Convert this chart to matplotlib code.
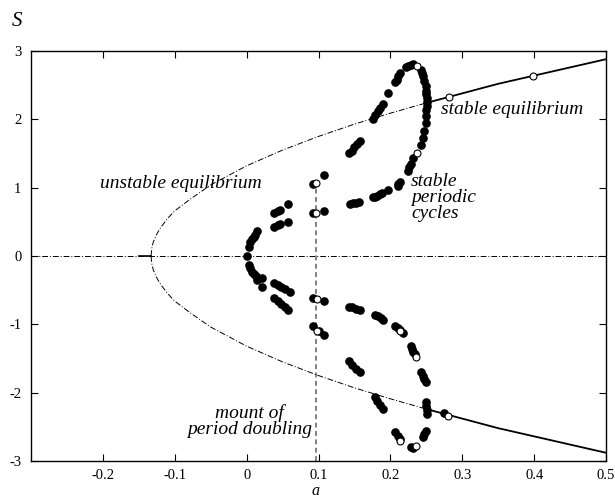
import numpy as np
from matplotlib import pyplot as plt

plt.rcParams['font.family'] = ['Liberation Serif', 'DejaVu Serif']

# equilibrium branch (upper half, lower half is mirrored)
a_eq_unst = [-0.133, -0.132, -0.13, -0.125, -0.12, -0.115, -0.11, -0.1, -0.08, -0.05, 0.0, 0.05, 0.1, 0.15, 0.2, 0.25]
S_eq_unst = [0.0, 0.11, 0.2, 0.32, 0.41, 0.48, 0.55, 0.66, 0.82, 1.04, 1.32, 1.55, 1.75, 1.93, 2.09, 2.24]
a_eq_st = [0.25, 0.3, 0.35, 0.4, 0.45, 0.5]
S_eq_st = [2.24, 2.38, 2.52, 2.64, 2.76, 2.88]

# periodic cycles, filled points
a_up = [0.0, 0.003, 0.005, 0.008, 0.01, 0.012, 0.015,
        0.038, 0.043, 0.047, 0.058, 0.038, 0.043, 0.047, 0.058,
        0.093, 0.107, 0.144, 0.148, 0.152, 0.156,
        0.176, 0.179, 0.182, 0.186, 0.189, 0.197, 0.21, 0.211, 0.213,
        0.224, 0.226, 0.228, 0.232, 0.243, 0.246, 0.247,
        0.249, 0.25, 0.25, 0.251, 0.251, 0.251, 0.25, 0.25, 0.249, 0.247, 0.246, 0.244, 0.242,
        0.232, 0.228, 0.224, 0.222, 0.214, 0.211, 0.209, 0.207, 0.197,
        0.19, 0.186, 0.183, 0.179, 0.176, 0.158, 0.154, 0.15, 0.146, 0.143,
        0.107, 0.093]
S_up = [0.0, 0.13, 0.2, 0.25, 0.28, 0.31, 0.37,
        0.43, 0.45, 0.47, 0.5, 0.63, 0.66, 0.68, 0.76,
        0.63, 0.66, 0.76, 0.77, 0.78, 0.79,
        0.86, 0.87, 0.88, 0.90, 0.92, 0.96, 1.03, 1.06, 1.08,
        1.24, 1.30, 1.35, 1.44, 1.62, 1.73, 1.83,
        1.95, 2.05, 2.13, 2.2, 2.25, 2.31, 2.37, 2.42, 2.49, 2.56, 2.63, 2.68, 2.72,
        2.81, 2.80, 2.78, 2.77, 2.68, 2.63, 2.58, 2.55, 2.39,
        2.23, 2.17, 2.12, 2.06, 2.01, 1.69, 1.64, 1.59, 1.54, 1.51,
        1.18, 1.06]
a_lo = [0.003, 0.005, 0.008, 0.01, 0.013, 0.015, 0.022, 0.022,
        0.038, 0.043, 0.048, 0.053, 0.061, 0.038, 0.043, 0.048, 0.053, 0.058,
        0.093, 0.107, 0.142, 0.147, 0.152, 0.158,
        0.179, 0.183, 0.187, 0.19, 0.207, 0.21, 0.213, 0.217,
        0.228, 0.23, 0.232, 0.234, 0.243, 0.245, 0.247, 0.249,
        0.249, 0.25, 0.251, 0.251, 0.274,
        0.249, 0.247, 0.245, 0.228, 0.232,
        0.207, 0.21, 0.213, 0.179, 0.182, 0.185, 0.19,
        0.142, 0.147, 0.152, 0.158, 0.093, 0.1, 0.107]
S_lo = [-0.13, -0.18, -0.24, -0.27, -0.3, -0.35, -0.32, -0.45,
        -0.40, -0.43, -0.46, -0.48, -0.52, -0.61, -0.66, -0.70, -0.74, -0.79,
        -0.62, -0.66, -0.74, -0.75, -0.77, -0.79,
        -0.86, -0.88, -0.91, -0.93, -1.03, -1.06, -1.09, -1.12,
        -1.32, -1.36, -1.40, -1.44, -1.70, -1.75, -1.80, -1.85,
        -2.14, -2.19, -2.25, -2.31, -2.30,
        -2.56, -2.60, -2.65, -2.80, -2.81,
        -2.58, -2.63, -2.68, -2.07, -2.12, -2.18, -2.24,
        -1.54, -1.60, -1.65, -1.70, -1.03, -1.1, -1.16]

# open circles
a_open = [0.096, 0.096, 0.237, 0.237, 0.282, 0.399, 0.098, 0.098, 0.214, 0.236, 0.214, 0.236, 0.28]
S_open = [1.07, 0.63, 1.51, 2.78, 2.33, 2.64, -0.63, -1.1, -1.1, -1.48, -2.71, -2.78, -2.34]

a_pd = 0.096
S_pd_top = 1.06

fig = plt.figure(figsize=(6.15, 4.99), dpi=100)
ax = fig.add_axes([0.0504, 0.0762, 0.935, 0.8216])

dashdot = (0, (6, 2, 1, 2))
ax.axhline(0, color='k', lw=0.7, ls=dashdot)
ax.plot([-0.15, -0.133], [0, 0], color='k', lw=1.2)
ax.plot([a_pd, a_pd], [-3, S_pd_top], color='#808080', lw=1.4, ls=(0, (2.5, 1.8)))

ax.plot(a_eq_unst, S_eq_unst, color='k', lw=0.7, ls=dashdot)
ax.plot(a_eq_unst, -np.array(S_eq_unst), color='k', lw=0.7, ls=dashdot)
ax.plot(a_eq_st, S_eq_st, color='k', lw=1.3)
ax.plot(a_eq_st, -np.array(S_eq_st), color='k', lw=1.3)

ax.plot(a_up, S_up, 'o', color='k', ms=5.2, mec='k', zorder=3)
ax.plot(a_lo, S_lo, 'o', color='k', ms=5.2, mec='k', zorder=3)
ax.plot(a_open, S_open, 'o', mfc='white', mec='k', ms=5, mew=0.8, zorder=4)

ax.text(-0.204, 1.06, 'unstable equilibrium', style='italic', fontsize=14, va='center')
ax.text(0.271, 2.15, 'stable equilibrium', style='italic', fontsize=14, va='center')
ax.text(0.229, 0.86, 'stable\nperiodic\ncycles', style='italic', fontsize=14,
        va='center', linespacing=0.92)
ax.text(0.004, -2.41, 'mount of\nperiod doubling', style='italic', fontsize=14,
        ha='center', va='center', linespacing=0.92)

ax.set_xlim(-0.3, 0.5)
ax.set_ylim(-3, 3)
ax.set_xticks([-0.2, -0.1, 0, 0.1, 0.2, 0.3, 0.4, 0.5])
ax.set_xticklabels(['-0.2', '-0.1', '0', '0.1', '0.2', '0.3', '0.4', '0.5'])
ax.set_yticks([-3, -2, -1, 0, 1, 2, 3])
ax.set_yticklabels(['-3', '-2', '-1', '0', '1', '2', '3'])
ax.tick_params(direction='in', top=True, right=True, length=5, labelsize=10.5, pad=7)
ax.tick_params(axis='x', pad=5.5)
for s in ax.spines.values():
    s.set_linewidth(1.0)
fig.text(316 / 615, 1 - 483 / 499, 'a', style='italic', fontsize=11.5, ha='center', va='top')
fig.text(17 / 615, 1 - 22 / 499, 'S', style='italic', fontsize=15, ha='center', va='center')

fig.savefig('out.png', dpi=100)
